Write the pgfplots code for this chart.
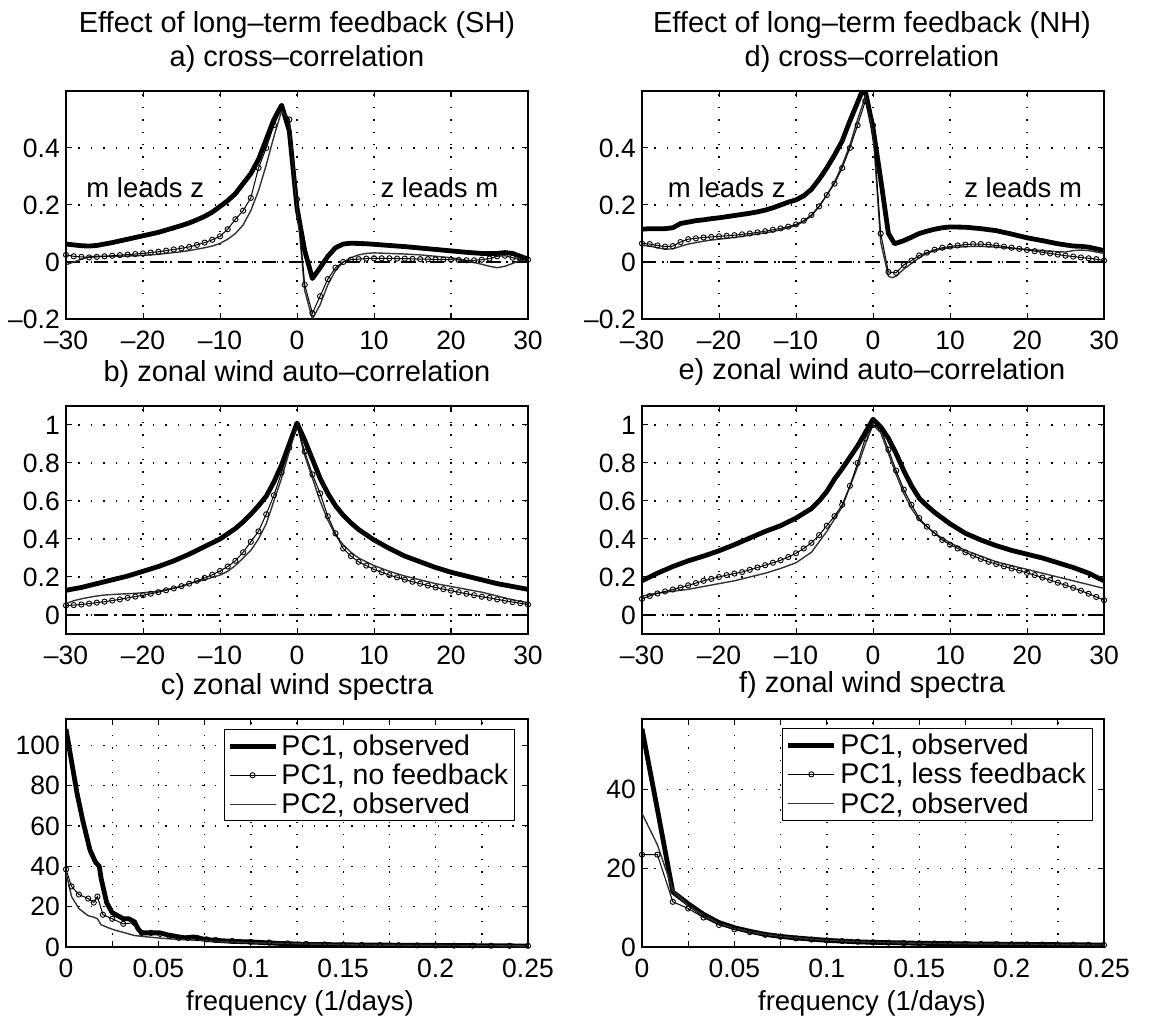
\documentclass[border=0pt]{standalone}
\usepackage{fontspec}
\setmainfont{Liberation Sans}
\usepackage{pgfplots}
\pgfplotsset{compat=1.18}
\pgfplotsset{
  mybase/.style={
    scale only axis, width=462pt, height=228pt, anchor=south west,
    axis line style={line width=1.3pt},
    tick align=inside, xtick pos=both, ytick pos=both,
    major tick length=6pt,
    tick style={line width=1pt, black},
    grid=major,
    major grid style={line width=1.4pt, dash pattern=on 1.4pt off 11pt, black},
    tick label style={font=\fontsize{26.5}{26.5}\selectfont},
    xticklabel style={inner sep=3pt, yshift=-9pt},
    yticklabel style={inner sep=3pt, xshift=-3pt},
    legend style={draw=black, line width=1pt, fill=white,
      font=\fontsize{28.5}{28.5}\selectfont, cells={anchor=west},
      nodes={inner sep=3.5pt}},
    legend image code/.code={\draw[##1, mark repeat=2, mark phase=2] plot coordinates {(0pt,0pt) (23pt,0pt) (46pt,0pt)};},
  },
  lagaxis/.style={mybase, xmin=-30, xmax=30, xtick={-30,-20,...,30},
    xticklabels={–30,–20,–10,0,10,20,30}},
  freqaxis/.style={mybase, xmin=0, xmax=0.25,
    xtick={0,0.025,0.05,0.075,0.1,0.125,0.15,0.175,0.2,0.225,0.25},
    xticklabels={0,,0.05,,0.1,,0.15,,0.2,,0.25}},
  obs/.style={black, line width=4.8pt, line join=round},
  nofb/.style={black, line width=1pt, mark=o, mark size=2.6pt,
    mark options={fill=white, line width=0.9pt, solid}},
  pc2/.style={black!80, line width=1.4pt},
  zero/.style={black, line width=1.2pt, dash pattern=on 14pt off 6pt on 2pt off 6pt},
}
\newcommand{\ttl}{\fontsize{29}{29}\selectfont}
\newcommand{\lbl}{\fontsize{27.5}{27.5}\selectfont}
\begin{document}
\begin{tikzpicture}
\useasboundingbox (0pt,0pt) rectangle (1151pt,1020pt);
% titles
\node[anchor=base, font=\ttl] at (297pt,987pt) {Effect of long–term feedback (SH)};
\node[anchor=base, font=\ttl] at (872pt,987pt) {Effect of long–term feedback (NH)};
\node[anchor=base, font=\ttl] at (297pt,953pt) {a) cross–correlation};
\node[anchor=base, font=\ttl] at (872pt,953pt) {d) cross–correlation};
\node[anchor=base, font=\ttl] at (297pt,638pt) {b) zonal wind auto–correlation};
\node[anchor=base, font=\ttl] at (872pt,640pt) {e) zonal wind auto–correlation};
\node[anchor=base, font=\ttl] at (297pt,325pt) {c) zonal wind spectra};
\node[anchor=base, font=\ttl] at (872pt,327pt) {f) zonal wind spectra};
\node[anchor=base, font=\lbl] at (300pt,10pt) {frequency (1/days)};
\node[anchor=base, font=\lbl] at (872pt,10pt) {frequency (1/days)};

% ---------- a ----------
\begin{axis}[lagaxis, at={(66pt,701pt)}, ymin=-0.2, ymax=0.6,
  ytick={-0.2,0,0.2,0.4}, yticklabels={–0.2,0,0.2,0.4}]
\addplot[zero] coordinates {(-30,0) (30,0)};
\addplot[obs] coordinates {(-30,0.063)(-29,0.06)(-28,0.057)(-27,0.056)(-26,0.058)(-25,0.063)(-24,0.068)(-23,0.074)(-22,0.08)(-21,0.086)(-20,0.092)(-19,0.098)(-18,0.104)(-17,0.112)(-16,0.12)(-15,0.128)(-14,0.137)(-13,0.148)(-12,0.16)(-11,0.175)(-10,0.195)(-9,0.215)(-8,0.24)(-7,0.275)(-6,0.31)(-5,0.36)(-4,0.43)(-3,0.5)(-2,0.55)(-1,0.46)(0,0.19)(1,0.04)(2,-0.058)(3,-0.02)(4,0.02)(5,0.05)(6,0.063)(7,0.066)(8,0.065)(9,0.064)(10,0.062)(12,0.058)(14,0.054)(16,0.049)(18,0.044)(20,0.039)(22,0.034)(24,0.03)(26,0.03)(27,0.033)(28,0.03)(29,0.02)(30,0.01)};
\addplot[pc2] coordinates {(-30,-0.01)(-29,0.0)(-28,0.01)(-27,0.018)(-26,0.02)(-25,0.02)(-24,0.02)(-23,0.02)(-22,0.021)(-21,0.022)(-20,0.023)(-19,0.025)(-18,0.027)(-17,0.03)(-16,0.033)(-15,0.036)(-14,0.04)(-13,0.045)(-12,0.05)(-11,0.056)(-10,0.065)(-9,0.08)(-8,0.1)(-7,0.13)(-6,0.18)(-5,0.25)(-4,0.34)(-3,0.44)(-2,0.53)(-1,0.5)(0,0.2)(1,-0.1)(2,-0.2)(3,-0.15)(4,-0.08)(5,-0.03)(6,0.0)(7,0.015)(8,0.025)(9,0.03)(10,0.032)(12,0.03)(14,0.028)(16,0.025)(18,0.02)(20,0.015)(22,0.005)(24,-0.008)(25,-0.015)(26,-0.02)(27,-0.015)(28,-0.005)(29,0.005)(30,0.01)};
\addplot[nofb] coordinates {(-30,0.025)(-29,0.02)(-28,0.018)(-27,0.016)(-26,0.018)(-25,0.02)(-24,0.022)(-23,0.024)(-22,0.026)(-21,0.028)(-20,0.03)(-19,0.033)(-18,0.036)(-17,0.04)(-16,0.044)(-15,0.048)(-14,0.053)(-13,0.06)(-12,0.068)(-11,0.078)(-10,0.09)(-9,0.115)(-8,0.15)(-7,0.18)(-6,0.225)(-5,0.33)(-4,0.4)(-3,0.48)(-2,0.54)(-1,0.5)(0,0.22)(1,-0.08)(2,-0.18)(3,-0.12)(4,-0.06)(5,-0.02)(6,0.0)(7,0.008)(8,0.01)(9,0.012)(10,0.013)(11,0.013)(12,0.013)(13,0.012)(14,0.012)(15,0.011)(16,0.01)(17,0.01)(18,0.009)(19,0.008)(20,0.008)(21,0.007)(22,0.006)(23,0.006)(24,0.008)(25,0.012)(26,0.02)(27,0.022)(28,0.015)(29,0.008)(30,0.008)};
\node[anchor=base west, font=\lbl] at (axis cs:-27.8,0.228) {m leads z};
\node[anchor=base west, font=\lbl] at (axis cs:10.4,0.228) {z leads m};
\end{axis}

% ---------- d ----------
\begin{axis}[lagaxis, at={(642pt,701pt)}, ymin=-0.2, ymax=0.6,
  ytick={-0.2,0,0.2,0.4}, yticklabels={–0.2,0,0.2,0.4}]
\addplot[zero] coordinates {(-30,0) (30,0)};
\addplot[obs] coordinates {(-30,0.115)(-29,0.117)(-28,0.117)(-27,0.117)(-26,0.12)(-25,0.135)(-24,0.14)(-23,0.145)(-22,0.148)(-21,0.152)(-20,0.155)(-19,0.159)(-18,0.163)(-17,0.167)(-16,0.171)(-15,0.176)(-14,0.182)(-13,0.19)(-12,0.2)(-11,0.21)(-10,0.218)(-9,0.232)(-8,0.255)(-7,0.29)(-6,0.33)(-5,0.375)(-4,0.425)(-3,0.495)(-2,0.56)(-1.4,0.6)(-1,0.6)(0,0.47)(1,0.29)(2,0.1)(2.8,0.064)(4,0.075)(5,0.087)(6,0.1)(7,0.108)(8,0.115)(9,0.12)(10,0.123)(12,0.122)(14,0.117)(16,0.11)(18,0.098)(20,0.085)(22,0.075)(24,0.064)(26,0.056)(27,0.055)(28,0.052)(29,0.046)(30,0.04)};
\addplot[pc2] coordinates {(-30,0.058)(-29,0.056)(-28,0.05)(-27,0.045)(-26,0.046)(-25,0.055)(-24,0.063)(-23,0.068)(-22,0.073)(-21,0.077)(-20,0.08)(-19,0.083)(-18,0.086)(-17,0.09)(-16,0.094)(-15,0.098)(-14,0.102)(-13,0.107)(-12,0.113)(-11,0.12)(-10,0.128)(-9,0.142)(-8,0.162)(-7,0.195)(-6,0.235)(-5,0.28)(-4,0.34)(-3,0.41)(-2,0.5)(-1,0.58)(0,0.46)(1,0.07)(2,-0.05)(2.5,-0.055)(3,-0.05)(4,-0.025)(5,-0.005)(6,0.015)(7,0.03)(8,0.04)(9,0.046)(10,0.05)(12,0.054)(14,0.055)(16,0.052)(18,0.048)(20,0.044)(22,0.04)(24,0.036)(25,0.035)(26,0.04)(27,0.042)(28,0.04)(29,0.035)(30,0.03)};
\addplot[nofb] coordinates {(-30,0.065)(-29,0.063)(-28,0.058)(-27,0.054)(-26,0.056)(-25,0.07)(-24,0.08)(-23,0.083)(-22,0.086)(-21,0.088)(-20,0.09)(-19,0.092)(-18,0.094)(-17,0.097)(-16,0.1)(-15,0.104)(-14,0.108)(-13,0.113)(-12,0.118)(-11,0.124)(-10,0.132)(-9,0.145)(-8,0.165)(-7,0.195)(-6,0.235)(-5,0.275)(-4,0.33)(-3,0.4)(-2,0.48)(-1,0.565)(0,0.48)(1,0.1)(2,-0.035)(3,-0.038)(4,-0.01)(5,0.005)(6,0.023)(7,0.033)(8,0.043)(9,0.05)(10,0.054)(11,0.058)(12,0.061)(13,0.063)(14,0.063)(15,0.061)(16,0.058)(17,0.054)(18,0.05)(19,0.046)(20,0.042)(21,0.038)(22,0.034)(23,0.03)(24,0.026)(25,0.022)(26,0.019)(27,0.016)(28,0.013)(29,0.01)(30,0.005)};
\node[anchor=base west, font=\lbl] at (axis cs:-27.1,0.228) {m leads z};
\node[anchor=base west, font=\lbl] at (axis cs:11.4,0.228) {z leads m};
\end{axis}

% ---------- b ----------
\begin{axis}[lagaxis, at={(66pt,386pt)}, ymin=-0.1, ymax=1.1,
  ytick={0,0.2,0.4,0.6,0.8,1}, yticklabels={0,0.2,0.4,0.6,0.8,1}]
\addplot[zero] coordinates {(-30,0) (30,0)};
\addplot[obs] coordinates {(-30,0.13)(-28,0.145)(-26,0.165)(-24,0.185)(-22,0.205)(-20,0.23)(-18,0.255)(-16,0.285)(-14,0.32)(-12,0.36)(-10,0.4)(-8,0.455)(-7,0.49)(-6,0.53)(-5,0.575)(-4,0.625)(-3,0.7)(-2,0.79)(-1,0.9)(0,1.01)(1,0.92)(2,0.82)(3,0.72)(4,0.64)(5,0.575)(6,0.525)(7,0.485)(8,0.45)(10,0.395)(12,0.35)(14,0.31)(16,0.28)(18,0.25)(20,0.225)(22,0.205)(24,0.185)(26,0.165)(28,0.15)(30,0.135)};
\addplot[pc2] coordinates {(-30,0.06)(-29,0.075)(-28,0.085)(-27,0.093)(-26,0.1)(-25,0.105)(-24,0.108)(-23,0.11)(-22,0.112)(-21,0.114)(-20,0.117)(-19,0.121)(-18,0.126)(-17,0.133)(-16,0.142)(-15,0.15)(-14,0.165)(-13,0.175)(-12,0.185)(-11,0.198)(-10,0.21)(-9,0.23)(-8,0.26)(-7,0.3)(-6,0.34)(-5,0.4)(-4,0.48)(-3,0.6)(-2,0.72)(-1,0.86)(0,1.0)(1,0.84)(2,0.72)(3,0.6)(4,0.5)(5,0.42)(6,0.37)(7,0.33)(8,0.3)(10,0.26)(12,0.23)(14,0.205)(16,0.185)(18,0.165)(20,0.15)(22,0.135)(24,0.12)(26,0.1)(28,0.08)(30,0.065)};
\addplot[nofb] coordinates {(-30,0.05)(-29,0.052)(-28,0.055)(-27,0.06)(-26,0.065)(-25,0.07)(-24,0.076)(-23,0.082)(-22,0.09)(-21,0.097)(-20,0.104)(-19,0.112)(-18,0.12)(-17,0.13)(-16,0.14)(-15,0.152)(-14,0.165)(-13,0.18)(-12,0.195)(-11,0.212)(-10,0.232)(-9,0.255)(-8,0.285)(-7,0.33)(-6,0.385)(-5,0.44)(-4,0.53)(-3,0.63)(-2,0.75)(-1,0.88)(0,1.0)(1,0.86)(2,0.74)(3,0.64)(4,0.52)(5,0.43)(6,0.35)(7,0.31)(8,0.28)(9,0.26)(10,0.24)(11,0.225)(12,0.21)(13,0.198)(14,0.186)(15,0.175)(16,0.165)(17,0.155)(18,0.145)(19,0.136)(20,0.128)(21,0.12)(22,0.112)(23,0.104)(24,0.096)(25,0.09)(26,0.082)(27,0.075)(28,0.068)(29,0.062)(30,0.055)};
\end{axis}

% ---------- e ----------
\begin{axis}[lagaxis, at={(642pt,386pt)}, ymin=-0.1, ymax=1.1,
  ytick={0,0.2,0.4,0.6,0.8,1}, yticklabels={0,0.2,0.4,0.6,0.8,1}]
\addplot[zero] coordinates {(-30,0) (30,0)};
\addplot[obs] coordinates {(-30,0.18)(-28,0.22)(-26,0.255)(-24,0.285)(-22,0.31)(-20,0.338)(-18,0.37)(-16,0.405)(-14,0.44)(-12,0.47)(-10,0.51)(-8,0.56)(-7,0.6)(-6,0.65)(-5,0.715)(-4,0.77)(-3,0.83)(-2,0.89)(-1,0.96)(0,1.03)(1,0.99)(2,0.93)(3,0.85)(4,0.76)(5,0.68)(6,0.615)(7,0.575)(8,0.54)(10,0.48)(12,0.43)(14,0.395)(16,0.365)(18,0.34)(20,0.32)(22,0.3)(24,0.275)(26,0.25)(28,0.22)(30,0.18)};
\addplot[pc2] coordinates {(-30,0.1)(-28,0.115)(-26,0.125)(-24,0.135)(-22,0.15)(-20,0.165)(-18,0.18)(-16,0.2)(-14,0.22)(-12,0.245)(-10,0.275)(-8,0.33)(-6,0.44)(-4,0.57)(-2,0.78)(-1,0.9)(0,1.0)(1,0.96)(2,0.85)(3,0.74)(4,0.64)(5,0.56)(6,0.5)(8,0.43)(10,0.38)(12,0.34)(14,0.31)(16,0.28)(18,0.26)(20,0.24)(22,0.22)(24,0.2)(26,0.18)(28,0.16)(30,0.14)};
\addplot[nofb] coordinates {(-30,0.085)(-29,0.1)(-28,0.113)(-27,0.124)(-26,0.134)(-25,0.144)(-24,0.156)(-23,0.168)(-22,0.18)(-21,0.19)(-20,0.2)(-19,0.21)(-18,0.218)(-17,0.226)(-16,0.238)(-15,0.25)(-14,0.262)(-13,0.275)(-12,0.288)(-11,0.305)(-10,0.325)(-9,0.35)(-8,0.38)(-7,0.42)(-6,0.47)(-5,0.52)(-4,0.58)(-3,0.68)(-2,0.8)(-1,0.93)(0,1.0)(1,0.98)(2,0.87)(3,0.76)(4,0.66)(5,0.58)(6,0.51)(7,0.465)(8,0.43)(9,0.395)(10,0.37)(11,0.35)(12,0.33)(13,0.312)(14,0.295)(15,0.28)(16,0.268)(17,0.256)(18,0.245)(19,0.234)(20,0.222)(21,0.21)(22,0.197)(23,0.184)(24,0.17)(25,0.157)(26,0.143)(27,0.128)(28,0.112)(29,0.095)(30,0.078)};
\end{axis}

% ---------- c ----------
\begin{axis}[freqaxis, at={(66pt,73pt)}, ymin=0, ymax=113,
  ytick={0,20,40,60,80,100}, yticklabels={0,20,40,60,80,100},
  legend style={at={(0.972,0.956)}, anchor=north east}]
\addplot[obs] coordinates {(0,108)(0.003,92)(0.006,76)(0.009,63)(0.013,48)(0.016,42)(0.018,40)(0.019,34)(0.022,22)(0.025,17)(0.027,16)(0.031,14)(0.034,14)(0.037,12.5)(0.039,9)(0.041,7)(0.046,7)(0.051,7)(0.055,6)(0.061,5)(0.065,4.5)(0.069,5)(0.075,3.8)(0.081,3.3)(0.09,2.8)(0.1,2.5)(0.115,1.8)(0.13,1.3)(0.16,1)(0.2,0.8)(0.25,0.5)};
\addlegendentry{PC1, observed}
\addplot[nofb] coordinates {(0,38.5)(0.003,30)(0.007,26)(0.012,24)(0.015,22)(0.017,25)(0.02,16)(0.025,14)(0.031,11.5)(0.037,12)(0.041,7)(0.046,7)(0.051,6.5)(0.056,5.5)(0.061,4.5)(0.066,4.5)(0.071,4.5)(0.076,3.8)(0.081,3.5)(0.09,3)(0.1,2.5)(0.11,2.2)(0.12,1.8)(0.13,1.5)(0.14,1.3)(0.15,1.1)(0.16,1)(0.17,0.95)(0.18,0.9)(0.19,0.8)(0.2,0.75)(0.21,0.7)(0.22,0.7)(0.23,0.65)(0.24,0.6)(0.25,0.6)};
\addlegendentry{PC1, no feedback}
\addplot[pc2] coordinates {(0,37)(0.003,25)(0.007,19)(0.012,15.5)(0.015,14.8)(0.017,14)(0.019,11)(0.023,9.5)(0.027,8.2)(0.032,7)(0.037,5.7)(0.044,5)(0.051,4.4)(0.06,3.8)(0.071,3.3)(0.085,2.6)(0.1,2.1)(0.13,1.5)(0.16,1)(0.2,0.8)(0.25,0.5)};
\addlegendentry{PC2, observed}
\end{axis}

% ---------- f ----------
\begin{axis}[freqaxis, at={(642pt,73pt)}, ymin=0, ymax=58,
  ytick={0,20,40}, yticklabels={0,20,40},
  legend style={at={(0.304,0.96)}, anchor=north west}]
\addplot[obs] coordinates {(0,55.5)(0.00833,35)(0.01667,14)(0.025,11)(0.0333,8.3)(0.0417,6.2)(0.05,4.9)(0.0583,4)(0.0667,3.2)(0.075,2.7)(0.0833,2.3)(0.0917,2)(0.1,1.7)(0.1083,1.5)(0.1167,1.3)(0.125,1.2)(0.15,0.95)(0.175,0.8)(0.2,0.7)(0.225,0.6)(0.25,0.5)};
\addlegendentry{PC1, observed}
\addplot[nofb] coordinates {(0,23.5)(0.00833,23.5)(0.01667,11.5)(0.025,9.8)(0.0333,7.5)(0.0417,5.6)(0.05,4.5)(0.0583,3.8)(0.0667,3.1)(0.075,2.6)(0.0833,2.2)(0.0917,1.9)(0.1,1.7)(0.1083,1.5)(0.1167,1.35)(0.125,1.2)(0.1333,1.1)(0.1417,1.0)(0.15,0.95)(0.1583,0.9)(0.1667,0.85)(0.175,0.8)(0.1833,0.75)(0.1917,0.72)(0.2,0.7)(0.2083,0.65)(0.2167,0.62)(0.225,0.6)(0.2333,0.57)(0.2417,0.55)(0.25,0.5)};
\addlegendentry{PC1, less feedback}
\addplot[pc2] coordinates {(0,34)(0.00833,26)(0.01667,14.5)(0.025,10.5)(0.0333,8)(0.0417,6)(0.05,4.8)(0.0583,3.9)(0.0667,3.2)(0.075,2.7)(0.0833,2.3)(0.1,1.7)(0.125,1.2)(0.15,0.95)(0.2,0.7)(0.25,0.5)};
\addlegendentry{PC2, observed}
\end{axis}
\end{tikzpicture}
\end{document}
